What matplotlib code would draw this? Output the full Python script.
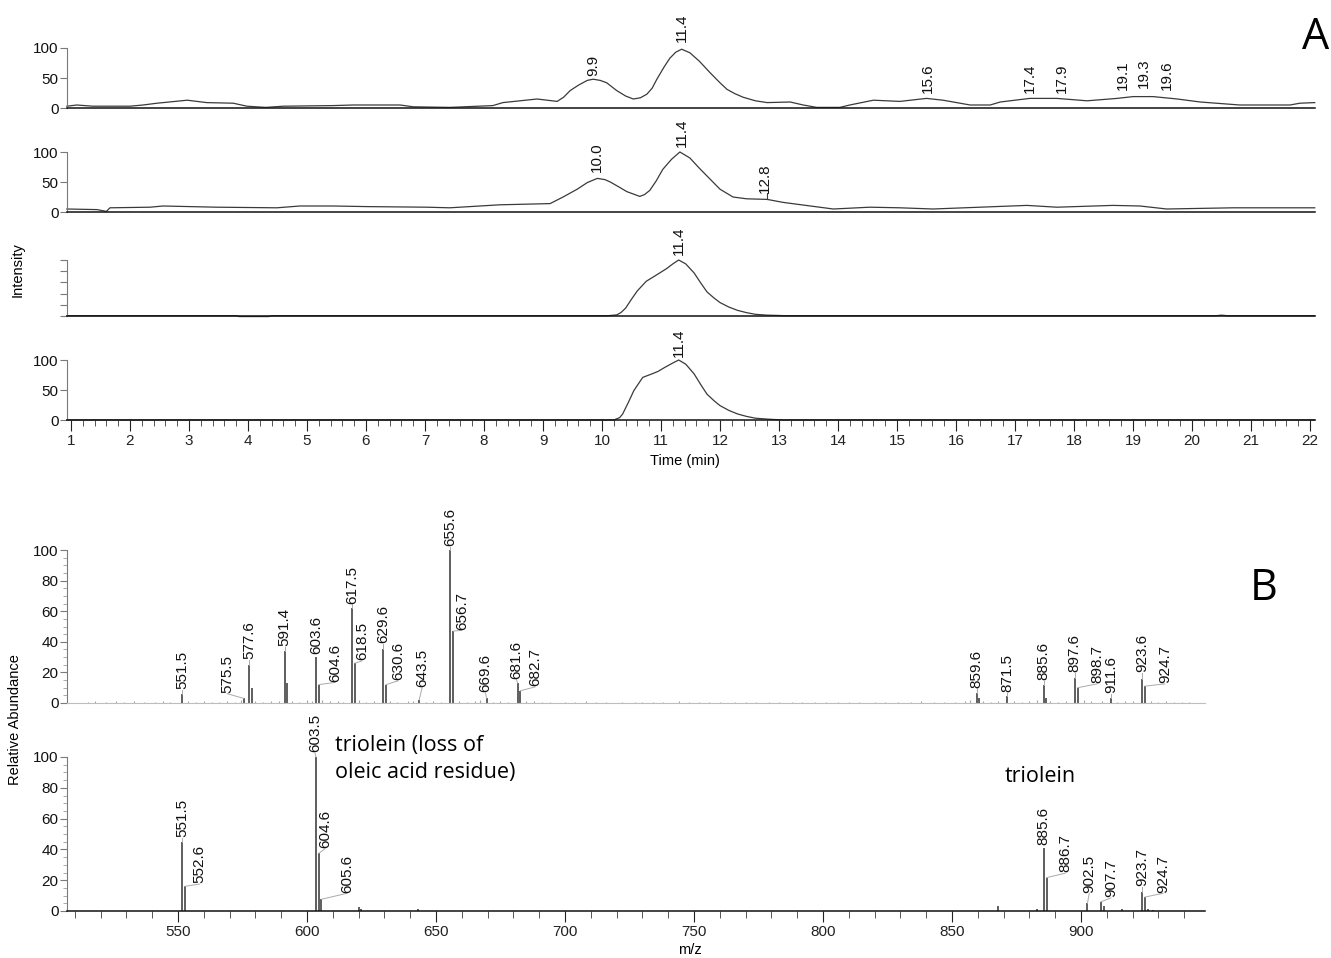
import matplotlib
matplotlib.use("Agg")
import matplotlib.pyplot as plt
from matplotlib.ticker import MultipleLocator, FixedLocator

plt.rcParams['font.family'] = ['Liberation Sans', 'DejaVu Sans']

# ---------------- chromatogram data (time in min, relative intensity) ----------------
tic1_t = [0.93, 1.1, 1.37, 2.0, 2.22, 2.46, 2.97, 3.3, 3.75, 3.98, 4.3, 4.6, 5.44, 5.78,
          6.58, 6.8, 7.42, 8.15, 8.32, 8.9, 9.24, 9.35, 9.46, 9.6, 9.75, 9.85, 9.97, 10.08,
          10.25, 10.4, 10.53, 10.65, 10.76, 10.85, 10.93, 11.05, 11.15, 11.25, 11.35, 11.49,
          11.65, 11.83, 12.0, 12.12, 12.25, 12.39, 12.6, 12.8, 13.19, 13.41, 13.64, 14.03,
          14.2, 14.6, 15.05, 15.5, 15.78, 16.24, 16.58, 16.75, 17.25, 17.71, 18.22, 18.73,
          19.0, 19.34, 19.75, 20.14, 20.81, 21.66, 21.83, 22.08]
tic1_i = [3, 5, 3, 3, 5, 8, 13, 9, 8, 3, 1, 3, 4, 5,
          5, 2, 1, 4, 9, 15, 11, 18, 29, 38, 46, 48, 46, 42,
          29, 20, 15, 17, 23, 33, 48, 68, 83, 93, 98, 92,
          78, 59, 42, 31, 24, 18, 12, 9, 10, 5, 1, 1,
          5, 13, 11, 16, 13, 5, 5, 10, 16, 16, 12, 16,
          19, 19, 15, 10, 5, 5, 8, 9]

tic2_t = [0.93, 1.44, 1.6, 1.66, 2.34, 2.56, 3.47, 4.49, 4.88, 5.44, 6.02, 7.03, 7.42,
          8.27, 9.12, 9.34, 9.58, 9.75, 9.92, 10.05, 10.14, 10.3, 10.42, 10.64, 10.72,
          10.81, 10.92, 11.03, 11.18, 11.32, 11.49, 11.65, 11.83, 12.0, 12.22, 12.45, 12.8,
          13.07, 13.92, 14.54, 15.05, 15.61, 17.2, 17.71, 18.66, 19.12, 19.57, 20.7, 22.08]
tic2_i = [5, 4, 1, 7, 8, 10, 8, 7, 10, 10, 9, 8, 7,
          12, 14, 25, 38, 49, 56, 54, 50, 41, 34, 26, 29,
          36, 52, 71, 88, 100, 90, 73, 55, 38, 25, 22, 21,
          16, 5, 8, 7, 5, 11, 8, 11, 10, 5, 7, 7]

tic3_t = [0.93, 3.8, 3.85, 4.35, 4.4, 10.1, 10.25, 10.32, 10.4, 10.5, 10.6, 10.75, 10.95,
          11.1, 11.2, 11.3, 11.42, 11.56, 11.68, 11.78, 11.9, 12.0, 12.15, 12.3, 12.45,
          12.6, 12.8, 12.98, 13.1, 20.4, 20.5, 20.6, 22.08]
tic3_i = [0.5, 0.5, -1, -1, 0.5, 0.5, 2, 6, 14, 30, 45, 62, 75,
          85, 93, 100, 93, 77, 58, 43, 32, 24, 16, 10, 6,
          3, 1.5, 1, 0.5, 0.5, 1.5, 0.5, 0.5]

tic4_t = [0.93, 10.2, 10.3, 10.35, 10.45, 10.54, 10.69, 10.85, 10.95, 11.07, 11.2, 11.3,
          11.42, 11.56, 11.68, 11.78, 11.9, 12.0, 12.15, 12.3, 12.45, 12.6, 12.8, 12.98,
          13.1, 22.08]
tic4_i = [0, 0, 4, 10, 30, 49, 71, 77, 81, 88, 95, 100,
          93, 77, 58, 43, 32, 24, 16, 10, 6, 3, 1.5, 0.5,
          0, 0]

# peak labels (retention times)
tic1_peaks = ["9.9", "11.4", "15.6", "17.4", "17.9", "19.1", "19.3", "19.6"]
tic2_peaks = ["10.0", "11.4", "12.8"]
tic3_peaks = ["11.4"]
tic4_peaks = ["11.4"]

# ---------------- mass spectra (m/z, relative abundance) ----------------
ms1_mz = [551.5, 575.5, 577.6, 578.6, 591.4, 592.4, 603.6, 604.6, 617.5, 618.5, 629.6,
          630.6, 643.5, 655.6, 656.7, 669.6, 681.6, 682.7, 859.6, 860.6, 871.5, 885.6,
          886.6, 897.6, 898.7, 911.6, 923.6, 924.7]
ms1_ab = [6, 3, 25, 9.5, 34, 13, 30, 12, 62, 26, 35,
          12, 2, 100, 47, 3, 13, 8, 6.5, 3, 4.5, 12,
          3, 16.5, 10, 3.5, 16, 11]
ms1_labels = ["551.5", "575.5", "577.6", "591.4", "603.6", "604.6", "617.5", "618.5",
              "629.6", "630.6", "643.5", "655.6", "656.7", "669.6", "681.6", "682.7",
              "859.6", "871.5", "885.6", "897.6", "898.7", "911.6", "923.6", "924.7"]
ms1_noise = [(515, 0.8), (518, 1.2), (522, 0.6), (526, 1.0), (529, 0.7), (533, 1.1),
             (537, 0.6), (541, 0.9), (544, 1.3), (547, 0.7), (554, 1.0), (557, 0.8),
             (560, 1.2), (563, 0.6), (566, 0.9), (569, 1.1), (572, 0.7), (574.5, 2.0),
             (580, 1.0), (583, 0.8), (586, 1.2), (589, 1.0), (594, 1.4), (597, 0.8),
             (600, 2.0), (602, 1.0), (606, 2.2), (609, 1.0), (612, 1.5), (614, 0.9),
             (620, 1.8), (623, 0.7), (626, 1.2), (632, 1.5), (635, 0.8), (639, 1.0),
             (641, 1.6), (646, 0.7), (649, 1.0), (652, 0.9), (659, 1.2), (662, 0.8),
             (665, 1.6), (667, 2.2), (672, 0.8), (675, 1.0), (678, 0.6), (685, 1.5),
             (688, 1.2), (691, 0.8), (694, 0.7), (700, 0.9), (704, 0.6), (708, 1.0),
             (712, 0.7), (716, 0.8), (722, 0.6), (727, 0.9), (730, 0.7), (734, 0.8),
             (738, 0.6), (744, 1.5), (748, 0.8), (752, 0.6), (756, 0.9), (760, 0.7),
             (766, 0.8), (770, 0.6), (774, 0.9), (779, 0.7), (783, 0.8), (788, 0.6),
             (792, 0.8), (797, 0.7), (801, 0.9), (806, 0.6), (810, 0.8), (814, 0.7),
             (820, 0.9), (824, 0.6), (829, 0.8), (834, 0.7), (838, 1.0), (843, 0.7),
             (847, 0.9), (851, 0.8), (855, 1.5), (857, 1.8), (862, 1.0), (865, 0.8),
             (868, 1.4), (874, 1.2), (877, 0.8), (880, 1.5), (883, 2.0), (888, 1.0),
             (891, 0.8), (894, 1.6), (901, 1.8), (904, 1.0), (908, 1.2), (914, 0.8),
             (917, 1.0), (920, 1.4), (927, 1.2), (930, 0.8), (933, 1.0), (936, 0.7),
             (939, 0.9), (942, 0.7)]

ms2_mz = [551.5, 552.6, 603.5, 604.6, 605.6, 620.0, 621.0, 643.0, 868.0, 883.0, 885.6,
          886.7, 902.5, 907.7, 909.0, 916.0, 923.7, 924.7, 926.0, 928.0]
ms2_ab = [45, 16, 100, 37.4, 7.6, 2.6, 1.5, 1.0, 3, 1, 41,
          21.7, 5, 6, 3, 1, 12.4, 9, 1.5, 0.8]
ms2_labels = ["551.5", "552.6", "603.5", "604.6", "605.6", "885.6", "886.7", "902.5",
              "907.7", "923.7", "924.7"]

# ---------------- layout (label placement, pixel geometry) ----------------
W, H = 1331, 958
tic1_lab = [(9.86, 53), (11.36, 110), (15.53, 25), (17.25, 25), (17.8, 25),
            (18.83, 30), (19.19, 33), (19.58, 30)]
tic2_lab = [(9.91, 67), (11.36, 108), (12.76, 32)]
tic3_lab = [(11.3, 109)]
tic4_lab = [(11.3, 105)]

ms1_lab = [(551.5, 9), (569.0, 6.6), (577.6, 28.5), (591.4, 37), (603.6, 32), (610.9, 14),
           (617.5, 65), (621.3, 28), (629.6, 39), (635.3, 15), (644.6, 10.6), (655.6, 102.6),
           (660.0, 48), (669.2, 7), (681.2, 16), (688.4, 11), (859.6, 10), (871.5, 7),
           (885.6, 15), (897.6, 20), (906.2, 13), (911.6, 6.6), (923.6, 20), (932.5, 13)]
ms2_lab = [(551.5, 48), (558.3, 18), (603.1, 103), (607.0, 41), (615.5, 12),
           (885.6, 43), (893.8, 25), (903.2, 12), (911.6, 9), (923.7, 16), (931.8, 12)]

fig = plt.figure(figsize=(W / 100, H / 100), dpi=100)

GRAY = '#7a7a7a'
LINE = '#3a3a3a'


def px_axes(x0, x1, y_top, y_base):
    return fig.add_axes([x0 / W, 1 - y_base / H, (x1 - x0) / W, (y_base - y_top) / H])


def chrom_panel(base, y100, t, inten, peaks, lab, bottom=False, labels=True):
    ax = px_axes(67, 1315, base - 100, base)
    ax.set_xlim(1 + (67 - 71) / 59, 1 + (1315 - 71) / 59)
    ax.set_ylim(0, 100 * 100 / (base - y100))
    ax.plot(t, inten, color=LINE, lw=0.9, clip_on=False)
    for s in ['top', 'right']:
        ax.spines[s].set_visible(False)
    ax.spines['left'].set_bounds(0, 100)
    ax.spines['left'].set_color(GRAY)
    ax.spines['bottom'].set_color('#111111')
    ax.spines['bottom'].set_linewidth(1.1)
    if labels:
        ax.set_yticks([0, 50, 100])
    else:
        ax.set_yticks([0, 20, 40, 60, 80, 100])
        ax.set_yticklabels([])
    ax.tick_params(axis='y', colors=GRAY, labelcolor='#111111', labelsize=11,
                   length=5, width=0.8, pad=1)
    if bottom:
        ax.xaxis.set_major_locator(MultipleLocator(1))
        ax.xaxis.set_minor_locator(MultipleLocator(0.2))
        ax.tick_params(axis='x', which='major', length=8, width=0.8, labelsize=11,
                       colors='#222222', pad=2)
        ax.tick_params(axis='x', which='minor', length=4, width=0.7, colors='#555555')
    else:
        ax.set_xticks([])
    for s, (x, y) in zip(peaks, lab):
        ax.text(x, y, s, rotation=90, ha='center', va='bottom', fontsize=11,
                color='#111111')
    return ax


chrom_panel(108, 48, tic1_t, tic1_i, tic1_peaks, tic1_lab)
ax2 = chrom_panel(212, 152, tic2_t, tic2_i, tic2_peaks, tic2_lab)
ax2.plot([12.8, 12.8], [21, 31], color=LINE, lw=0.8)
chrom_panel(316, 260, tic3_t, tic3_i, tic3_peaks, tic3_lab, labels=False)
chrom_panel(420, 360, tic4_t, tic4_i, tic4_peaks, tic4_lab, bottom=True)


def spectrum_panel(base, y100, mz, ab, labels, lab, noise=None, bottom=False):
    ax = px_axes(67, 1205, base - 180, base)
    ax.set_xlim(550 - (178 - 67) / 2.58, 550 + (1205 - 178) / 2.58)
    ax.set_ylim(0, 180 * 100 / (base - y100))
    if noise:
        nm = [p[0] for p in noise]
        nh = [p[1] for p in noise]
        ax.vlines(nm, 0, nh, color='#a5a5a5', lw=0.8)
    ax.vlines(mz, 0, ab, color='#333333', lw=1.1)
    for s, (x, y) in zip(labels, lab):
        m = float(s)
        h = ab[mz.index(m)] if m in mz else 0
        if abs(x - m) > 0.3 or y - h > 2:
            ax.plot([m, x], [h, y - 0.5], color='#aaaaaa', lw=0.7)
        ax.text(x, y, s, rotation=90, ha='center', va='bottom', fontsize=11,
                color='#111111')
    for s in ['top', 'right']:
        ax.spines[s].set_visible(False)
    ax.spines['left'].set_bounds(0, 100)
    ax.spines['left'].set_color(GRAY)
    ax.yaxis.set_major_locator(FixedLocator(list(range(0, 101, 20))))
    ax.yaxis.set_minor_locator(FixedLocator(list(range(0, 101, 5))))
    ax.tick_params(axis='y', which='major', colors=GRAY, labelcolor='#111111',
                   labelsize=11, length=5, width=0.8, pad=1)
    ax.tick_params(axis='y', which='minor', colors='#aaaaaa', length=3, width=0.7)
    if bottom:
        ax.spines['bottom'].set_color('#111111')
        ax.spines['bottom'].set_linewidth(1.1)
        ax.xaxis.set_major_locator(MultipleLocator(50))
        ax.xaxis.set_minor_locator(MultipleLocator(10))
        ax.tick_params(axis='x', which='major', length=8, width=0.8, labelsize=11,
                       colors='#222222', pad=2)
        ax.tick_params(axis='x', which='minor', length=5, width=0.7, colors='#555555')
    else:
        ax.spines['bottom'].set_color('#bdbdbd')
        ax.set_xticks([])
    return ax


spectrum_panel(703, 550, ms1_mz, ms1_ab, ms1_labels, ms1_lab, noise=ms1_noise)
spectrum_panel(911, 757, ms2_mz, ms2_ab, ms2_labels, ms2_lab, bottom=True)

# axis titles and annotations
fig.text(18 / W, 1 - 270 / H, 'Intensity', rotation=90, ha='center', va='center', fontsize=10.5)
fig.text(685 / W, 1 - 461 / H, 'Time (min)', ha='center', va='center', fontsize=10.5)
fig.text(15 / W, 1 - 720 / H, 'Relative Abundance', rotation=90, ha='center', va='center',
         fontsize=10.5)
fig.text(690 / W, 1 - 950 / H, 'm/z', ha='center', va='center', fontsize=10.5)

fig.text(1316 / W, 1 - 38 / H, 'A', ha='center', va='center', fontsize=31,
         family=['Open Sans', 'DejaVu Sans'])
fig.text(1264 / W, 1 - 589 / H, 'B', ha='center', va='center', fontsize=31,
         family=['Open Sans', 'DejaVu Sans'])
fig.text(335 / W, 1 - 778 / H, 'triolein (loss of\noleic acid residue)', ha='left',
         va='baseline', fontsize=15.5, linespacing=1.4, family=['Open Sans', 'DejaVu Sans'],
         multialignment='left')
fig.text(1005 / W, 1 - 782 / H, 'triolein', ha='left', va='baseline', fontsize=15.5,
         family=['Open Sans', 'DejaVu Sans'])

fig.savefig('out.png', dpi=100)
